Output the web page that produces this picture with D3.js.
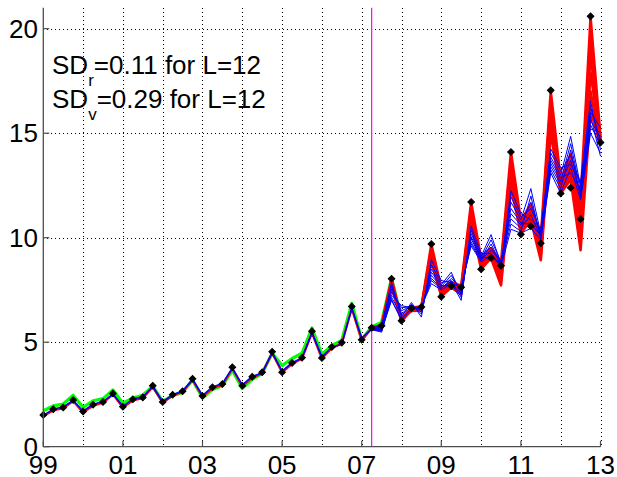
<!DOCTYPE html>
<html><head><meta charset="utf-8">
<script src="https://cdn.jsdelivr.net/npm/d3@7"></script>
<style>
html,body{margin:0;padding:0;background:#fff;}
svg{display:block;font-family:"Liberation Sans",Arial,Helvetica,sans-serif;}
</style></head>
<body><svg id="chart" width="617" height="477"></svg>
<script>
// ---- data ----
const startYear = 1999;           // first quarter 1999 Q1
const xTickYears = [1999,2001,2003,2005,2007,2009,2011,2013];
const xTickLabels = ["99","01","03","05","07","09","11","13"];
const gridYears = [2000,2001,2002,2003,2004,2005,2006,2007,2008,2009,2010,2011,2012,2013];
const yTicks = [0,5,10,15,20];
const splitYear = 2007.25;        // magenta vertical line
const forecastStartIndex = 33;    // 2007 Q2

const actual = [1.52,1.79,1.88,2.23, 1.69,2.01,2.14,2.55, 1.91,2.27,2.36,2.92, 2.14,2.49,2.65,3.25,
  2.43,2.84,3.00,3.80, 2.92,3.35,3.56,4.54, 3.56,4.01,4.26,5.52, 4.25,4.77,4.98,6.71,
  5.12,5.69,5.79,8.04, 6.03,6.62,6.68,9.70, 7.18,7.69,7.63,11.71, 8.49,9.03,8.66,14.10,
  10.16,10.55,9.73,17.05, 12.12,12.39,10.89,20.59, 14.56];

const greenFit = [1.72,1.95,2.04,2.46, 1.88,2.20,2.30,2.71, 2.08,2.33,2.46,2.90, 2.17,2.45,2.60,3.19,
  2.34,2.74,2.92,3.66, 2.79,3.22,3.51,4.47, 3.88,4.22,4.47,5.68, 4.42,4.85,5.08,6.86,
  5.12,5.74,5.95,8.06, 6.12];

const redFit = [1.46,1.74,1.84,2.18, 1.64,1.96,2.10,2.50, 1.87,2.22,2.32,2.86, 2.10,2.45,2.62,3.20,
  2.40,2.80,2.96,3.74, 2.90,3.30,3.52,4.48, 3.55,3.96,4.22,5.44, 4.22,4.72,4.94,6.60, 5.08,5.66];

const blueFit = [1.50,1.80,1.90,2.22, 1.70,2.03,2.16,2.52, 1.93,2.28,2.38,2.88, 2.15,2.48,2.66,3.22,
  2.45,2.86,3.02,3.76, 2.96,3.36,3.54,4.50, 3.62,4.02,4.24,5.46, 4.30,4.76,4.90,6.62, 5.20,5.64];

const red1 = [5.70,5.82,8.04,6.10,6.66,6.70,9.70,7.55,7.88,7.70,11.70,9.00,9.50,8.80,14.10,10.80,11.60,10.00,17.00,12.75,14.00,11.80,20.55,14.80];
const red2 = [5.68,5.78,7.95,6.05,6.62,6.66,9.50,7.45,7.82,7.58,11.45,8.85,9.40,8.55,13.70,10.65,11.40,9.75,16.60,12.60,13.70,11.30,19.70,14.70];
const red3 = [5.66,5.74,7.85,6.02,6.58,6.62,9.30,7.38,7.76,7.50,11.20,8.75,9.28,8.35,13.30,10.50,11.25,9.55,16.10,12.45,13.45,10.85,18.80,14.60];
const red4 = [5.64,5.70,7.78,6.00,6.55,6.60,9.15,7.30,7.70,7.44,11.00,8.65,9.18,8.15,13.00,10.40,11.10,9.35,15.70,12.35,13.20,10.40,17.90,14.55];
const red5 = [5.62,5.66,7.70,6.08,6.52,6.56,9.00,7.25,7.66,7.38,10.85,8.58,9.10,7.95,12.70,10.30,10.95,9.15,15.30,12.20,13.00,9.90,17.00,14.45];
const red6 = [5.60,5.62,7.62,6.15,6.50,6.52,8.85,7.20,7.62,7.30,10.70,8.50,9.02,7.72,12.40,10.22,10.84,8.92,15.00,12.12,12.78,9.40,16.10,14.40];

const blue1 = [5.70,5.78,7.85,6.20,6.90,6.20,8.95,7.95,7.85,7.00,10.55,9.25,9.25,8.65,12.25,11.15,10.85,10.45,14.25,13.35,13.50,12.70,16.55,14.20];
const blue2 = [5.68,5.72,7.70,6.35,6.80,6.35,8.70,7.85,7.95,7.15,10.35,9.15,9.55,8.70,11.95,11.00,11.40,10.30,14.05,13.20,13.95,12.55,16.30,14.60];
const blue3 = [5.66,5.65,7.55,6.50,6.75,6.45,8.50,7.75,8.35,7.25,10.20,9.10,10.15,8.75,11.70,10.85,12.35,10.20,13.85,13.00,14.85,12.45,16.00,15.25];
const blue4 = [5.64,5.58,7.40,6.65,6.70,6.55,8.35,7.70,7.72,7.35,10.05,9.05,9.05,8.80,11.40,10.70,10.65,10.10,13.70,12.85,13.10,12.30,15.80,13.90];
const blue5 = [5.62,5.52,7.25,6.75,6.65,6.60,8.20,7.65,8.20,7.45,9.95,9.00,9.90,8.85,11.15,10.60,11.70,10.05,13.55,12.70,14.50,12.20,15.60,14.80];
const blue6 = [5.60,5.48,7.15,6.30,6.68,6.65,8.05,7.60,7.90,7.55,9.80,8.95,9.40,8.90,10.90,10.45,11.10,10.00,13.40,12.55,13.70,12.05,15.40,14.40];
const blue7 = [5.66,5.60,7.05,6.10,6.62,6.68,7.95,7.55,8.05,7.60,9.70,8.90,9.70,8.75,10.65,10.30,12.00,9.95,13.25,12.35,14.20,11.95,15.20,15.05];
const blue8 = [5.62,5.55,7.00,6.05,6.60,6.70,7.80,7.50,7.80,7.65,9.60,8.85,9.15,8.62,10.40,10.22,10.45,9.90,13.10,12.12,13.35,11.80,15.00,14.05];

const redPaths = [red1,red2,red3,red4,red5,red6];
const bluePaths = [blue1,blue2,blue3,blue4,blue5,blue6,blue7,blue8];

const annotations = [
  {main:"SD", sub:"r", rest:"=0.11 for L=12"},
  {main:"SD", sub:"v", rest:"=0.29 for L=12"}
];

// ---- chart ----
const svg = d3.select("#chart");
const x = d3.scaleLinear().domain([1999, 2013]).range([43.3, 600.5]);
const y = d3.scaleLinear().domain([0, 21]).range([446.7, 7.8]);
const tOf = i => startYear + i / 4;

// grid
const grid = svg.append("g").attr("stroke","#000").attr("stroke-width",1)
  .attr("stroke-dasharray","1,3").attr("shape-rendering","crispEdges");
grid.selectAll("line.v").data(gridYears).join("line")
  .attr("x1",d=>Math.round(x(d))+0.5).attr("x2",d=>Math.round(x(d))+0.5)
  .attr("y1",y(21)).attr("y2",y(0));
grid.selectAll("line.h").data(yTicks.filter(d=>d>0)).join("line")
  .attr("x1",x(1999)).attr("x2",x(2013))
  .attr("y1",d=>Math.round(y(d))+0.5).attr("y2",d=>Math.round(y(d))+0.5);

// magenta split line
svg.append("line").attr("x1",x(splitYear)).attr("x2",x(splitYear))
  .attr("y1",y(21)).attr("y2",y(0)).attr("stroke","#ff00ff").attr("stroke-width",1.2);

const line = (offset) => d3.line().x((d,i)=>x(tOf(i+offset))).y(d=>y(d));

// green fit
svg.append("path").datum(greenFit).attr("d",line(0)).attr("fill","none")
  .attr("stroke","#00ff00").attr("stroke-width",3.2).attr("stroke-linejoin","round");
// red
svg.append("path").datum(redFit).attr("d",line(0)).attr("fill","none")
  .attr("stroke","#ff0000").attr("stroke-width",2.2).attr("stroke-linejoin","round");
svg.selectAll("path.red").data(redPaths).join("path").attr("class","red")
  .attr("d",d=>line(forecastStartIndex)(d)).attr("fill","none")
  .attr("stroke","#ff0000").attr("stroke-width",2.6).attr("stroke-linejoin","round");
// blue
svg.append("path").datum(blueFit).attr("d",line(0)).attr("fill","none")
  .attr("stroke","#0000ff").attr("stroke-width",1.6).attr("stroke-linejoin","round");
svg.selectAll("path.blue").data(bluePaths).join("path").attr("class","blue")
  .attr("d",d=>line(forecastStartIndex)(d)).attr("fill","none")
  .attr("stroke","#0000ff").attr("stroke-width",1).attr("stroke-linejoin","round");

// actual markers
const sym = d3.symbol().type(d3.symbolSquare).size(22);
svg.selectAll("path.pt").data(actual).join("path").attr("class","pt")
  .attr("d",sym)
  .attr("transform",(d,i)=>`translate(${x(tOf(i))},${y(d)}) rotate(45)`)
  .attr("fill","#000").attr("stroke","#000").attr("stroke-width",1);

// axes
const axisColor = "#4d4d4d";
svg.append("line").attr("x1",x(1999)).attr("x2",x(1999)).attr("y1",y(21)).attr("y2",y(0))
  .attr("stroke",axisColor).attr("stroke-width",1.3);
svg.append("line").attr("x1",x(1999)).attr("x2",x(2013)).attr("y1",y(0)).attr("y2",y(0))
  .attr("stroke",axisColor).attr("stroke-width",1.3);
// y ticks
svg.selectAll("line.yt").data(yTicks).join("line")
  .attr("x1",x(1999)).attr("x2",x(1999)+6).attr("y1",d=>y(d)).attr("y2",d=>y(d))
  .attr("stroke",axisColor).attr("stroke-width",1.2);
svg.selectAll("text.yl").data(yTicks).join("text")
  .attr("x",38).attr("y",d=>y(d)+9).attr("text-anchor","end")
  .attr("font-size",26).attr("fill","#000").text(d=>d);
// x ticks
svg.selectAll("line.xt").data(xTickYears).join("line")
  .attr("x1",d=>x(d)).attr("x2",d=>x(d)).attr("y1",y(0)).attr("y2",y(0)-6)
  .attr("stroke",axisColor).attr("stroke-width",1.2);
svg.selectAll("text.xl").data(xTickYears).join("text")
  .attr("x",d=>x(d)).attr("y",474).attr("text-anchor","middle")
  .attr("font-size",26).attr("fill","#000").text((d,i)=>xTickLabels[i]);

// annotation
annotations.forEach((a,k)=>{
  const t = svg.append("text").attr("x",52).attr("y",74 + k*34).attr("font-size",26).attr("fill","#000");
  t.append("tspan").text(a.main);
  t.append("tspan").attr("dy",12).attr("font-size",17).text(a.sub);
  t.append("tspan").attr("dy",-12).text(a.rest);
});
</script></body></html>
